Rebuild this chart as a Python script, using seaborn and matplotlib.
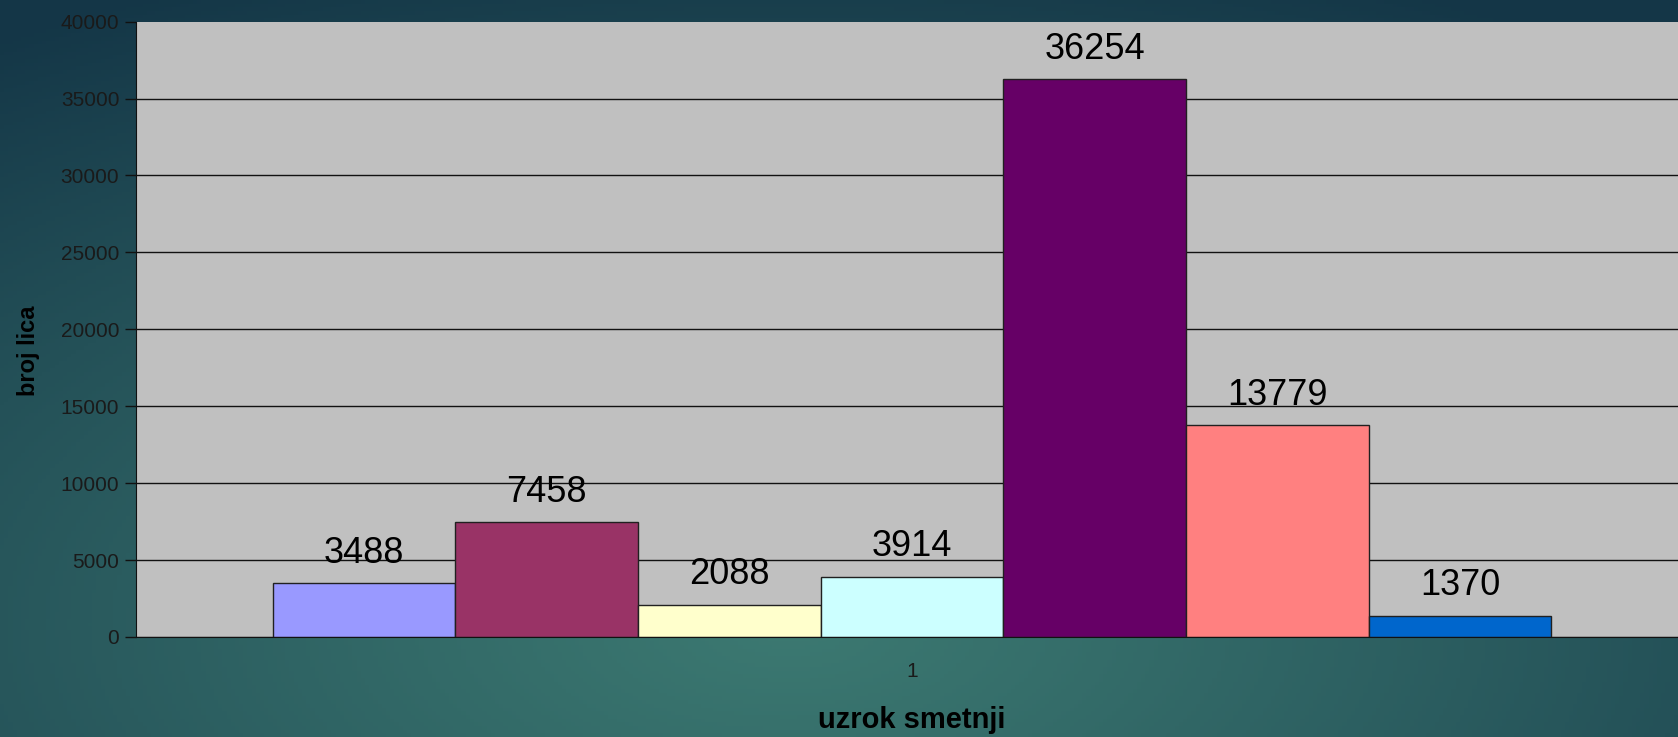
import numpy as np
import pandas as pd
import matplotlib
matplotlib.use("Agg")
import matplotlib.pyplot as plt
import seaborn as sns

# data
categories = ["uzrok 1", "uzrok 2", "uzrok 3", "uzrok 4", "uzrok 5", "uzrok 6", "uzrok 7"]
values = [3488, 7458, 2088, 3914, 36254, 13779, 1370]
group = ["1"] * len(categories)
colors = ["#9999ff", "#993366", "#ffffcc", "#ccffff", "#660066", "#ff8080", "#0066cc"]
yticks = [0, 5000, 10000, 15000, 20000, 25000, 30000, 35000, 40000]

df = pd.DataFrame({"grupa": group, "uzrok": categories, "broj": values})

sns.set_style("white")
plt.rcParams["font.family"] = ["Liberation Sans", "DejaVu Sans"]

fig = plt.figure(figsize=(16.78, 7.37), dpi=100)

# teal gradient backdrop
h, w = 200, 400
yy, xx = np.mgrid[0:1:h * 1j, 0:1:w * 1j]
d = np.sqrt(((xx - 0.47) / 0.9) ** 2 + ((yy - 0.85) / 1.0) ** 2)
d = np.clip(d / 0.95, 0, 1) ** 1.1
light = np.array([0.235, 0.475, 0.445])
dark = np.array([0.08, 0.215, 0.28])
grad = light[None, None, :] * (1 - d[..., None]) + dark[None, None, :] * d[..., None]
bg = fig.add_axes([0, 0, 1, 1], zorder=-1)
bg.imshow(grad, aspect="auto", extent=(0, 1, 0, 1), origin="upper")
bg.axis("off")

ax = fig.add_axes([0.081, 0.1357, 0.925, 0.835])
ax.set_facecolor("#c0c0c0")
sns.barplot(data=df, x="grupa", y="broj", hue="uzrok", palette=colors,
            saturation=1, width=0.824, gap=0, edgecolor="#202020",
            linewidth=1.0, legend=False, ax=ax)

for c in ax.containers:
    ax.bar_label(c, fmt="%d", padding=9, fontsize=26, color="black")

ax.set_ylim(0, 40000)
ax.set_xlim(-0.5, 0.5)
ax.set_yticks(yticks)
ax.set_yticklabels([str(t) for t in yticks], fontsize=15, color="#1a1a1a")
ax.tick_params(axis="y", direction="out", length=8, width=1, color="#111111", pad=4, left=True)
ax.tick_params(axis="x", length=0, pad=18, labelsize=15, labelcolor="#1a1a1a")
ax.yaxis.grid(True, color="#111111", linewidth=1.0)
ax.set_axisbelow(True)
ax.get_ygridlines()[-1].set_visible(False)

for s in ["top", "right"]:
    ax.spines[s].set_visible(False)
ax.spines["left"].set_color("#111111")
ax.spines["bottom"].set_color("#111111")

ax.set_ylabel("broj lica", fontsize=17, fontweight="bold", color="black")
ax.yaxis.set_label_coords(-0.062, 0.465)
ax.set_xlabel("uzrok smetnji", fontsize=21, fontweight="bold", color="black", labelpad=18)

fig.savefig("out.png", dpi=100)
